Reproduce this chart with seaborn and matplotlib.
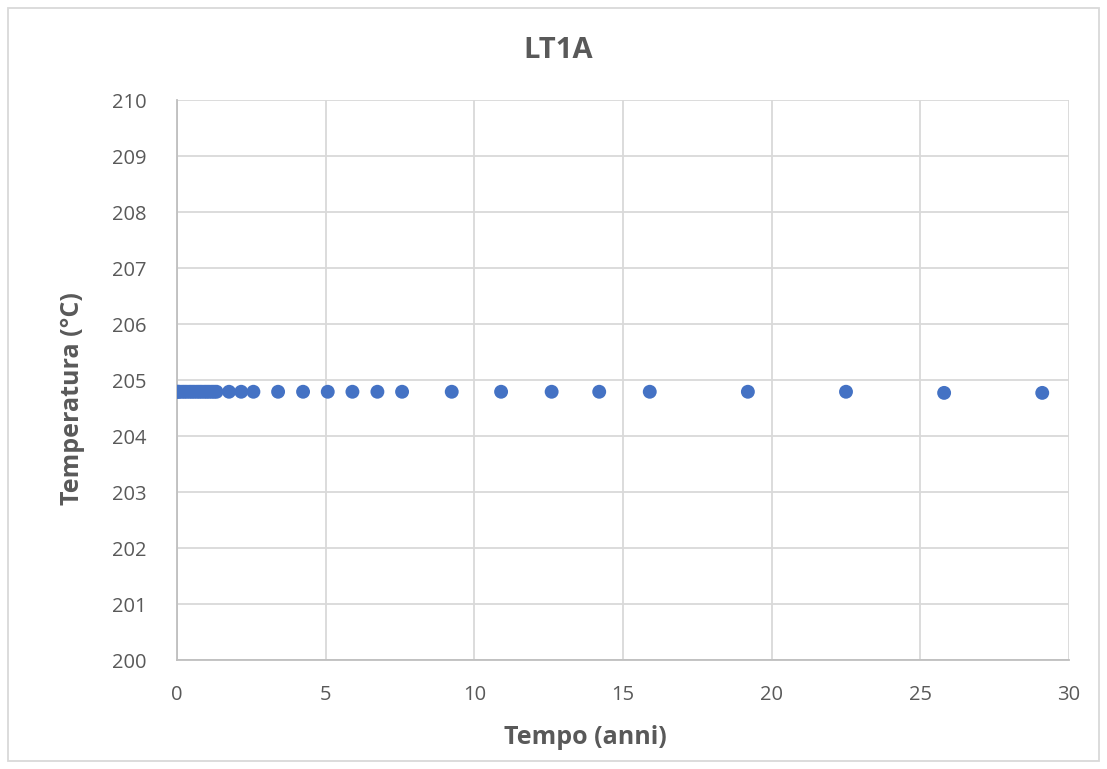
import matplotlib
matplotlib.use("Agg")
import matplotlib.pyplot as plt
import seaborn as sns
import pandas as pd
from matplotlib.patches import Rectangle

# Simulated temperature at LT1A over time
tempo_anni = [0.0, 0.04, 0.08, 0.17, 0.25, 0.33, 0.42, 0.5, 0.58, 0.67,
              0.75, 0.83, 0.92, 1.0, 1.08, 1.17, 1.25, 1.33, 1.75, 2.16,
              2.57, 3.4, 4.24, 5.07, 5.9, 6.74, 7.57, 9.24, 10.9, 12.6,
              14.2, 15.9, 19.2, 22.5, 25.8, 29.1]
temperatura = [204.79] * 32 + [204.79, 204.79, 204.77, 204.77]

x_ticks = [0, 5, 10, 15, 20, 25, 30]
y_ticks = [200, 201, 202, 203, 204, 205, 206, 207, 208, 209, 210]

titolo = "LT1A"
etichetta_x = "Tempo (anni)"
etichetta_y = "Temperatura (°C)"

df = pd.DataFrame({"tempo": tempo_anni, "temperatura": temperatura})

sns.set_theme(style="white")
plt.rcParams["font.family"] = ["Open Sans", "DejaVu Sans"]

text_col = "#595959"
grid_col = "#D9D9D9"

W, H = 1107, 769
fig = plt.figure(figsize=(W / 100, H / 100), dpi=100)
ax = fig.add_axes([177 / W, 1 - 660 / H, (1069 - 177) / W, (660 - 100) / H])

sns.scatterplot(data=df, x="tempo", y="temperatura", ax=ax,
                color="#4472C4", s=100, edgecolor="none", linewidth=0, zorder=3)

ax.set_xlim(0, 30)
ax.set_ylim(200, 210)
ax.set_xticks(x_ticks)
ax.set_yticks(y_ticks)
ax.set_xticklabels([str(t) for t in x_ticks])
ax.set_yticklabels([str(t) for t in y_ticks])

ax.grid(True, color=grid_col, linewidth=1.3, zorder=0)
ax.set_axisbelow(True)
for side in ["top", "right"]:
    ax.spines[side].set_visible(False)
for side in ["left", "bottom"]:
    ax.spines[side].set_color("#BFBFBF")
    ax.spines[side].set_linewidth(1.3)

ax.tick_params(axis="both", length=0, labelsize=14.5, colors=text_col)
ax.tick_params(axis="x", pad=18)
ax.tick_params(axis="y", pad=22)

ax.set_xlabel("")
ax.set_ylabel("")
fig.text(585 / W, 1 - 738 / H, etichetta_x, ha="center", va="center",
         fontsize=18, fontweight="bold", color=text_col)
fig.text(73 / W, 1 - 399 / H, etichetta_y, ha="center", va="center",
         rotation=90, fontsize=18, fontweight="bold", color=text_col)

fig.text(558 / W, 1 - 50 / H, titolo, ha="center", va="center",
         fontsize=21, fontweight="bold", color=text_col)

fig.patches.append(Rectangle((8 / W, 8 / H), 1 - 16 / W, 1 - 16 / H,
                             transform=fig.transFigure, fill=False,
                             edgecolor="#D9D9D9", linewidth=1.3))

fig.savefig("out.png", dpi=100, facecolor="white")
